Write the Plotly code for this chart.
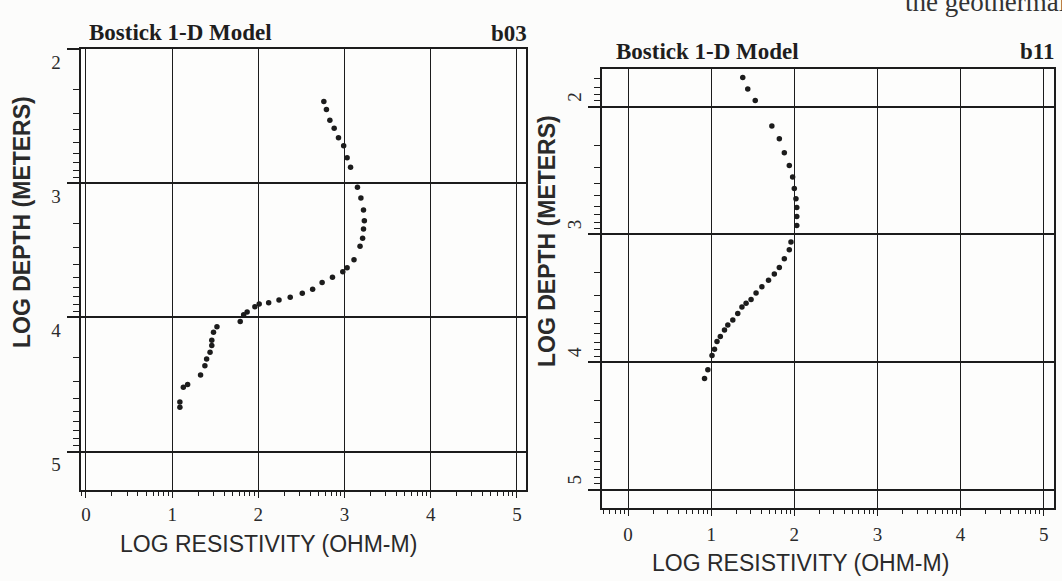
import numpy as np
import plotly.graph_objects as go

W, H = 1062, 581

# ---- data (log10 values) ----
b03_log_res = [2.76, 2.79, 2.83, 2.88, 2.93, 2.99, 3.03, 3.07, 3.15, 3.19, 3.22, 3.23, 3.22, 3.21,
               3.18, 3.11, 3.03, 2.98, 2.86, 2.74, 2.63, 2.51, 2.37, 2.24, 2.12, 2.01, 1.96, 1.87,
               1.83, 1.79, 1.52, 1.48, 1.46, 1.46, 1.44, 1.40, 1.38, 1.33, 1.18, 1.13, 1.09, 1.09]
b03_log_depth = [2.39, 2.45, 2.53, 2.59, 2.66, 2.72, 2.81, 2.88, 3.03, 3.11, 3.20, 3.28, 3.34, 3.41,
                 3.47, 3.57, 3.63, 3.66, 3.70, 3.74, 3.79, 3.82, 3.85, 3.87, 3.89, 3.90, 3.92, 3.96,
                 3.98, 4.03, 4.07, 4.11, 4.17, 4.21, 4.26, 4.31, 4.36, 4.43, 4.50, 4.52, 4.63, 4.67]

b11_log_res = [1.38, 1.44, 1.53, 1.73, 1.82, 1.88, 1.94, 1.98, 2.00, 2.02, 2.03, 2.03, 2.03, 1.96,
               1.94, 1.88, 1.82, 1.76, 1.69, 1.61, 1.54, 1.48, 1.42, 1.37, 1.32, 1.26, 1.20, 1.16,
               1.11, 1.07, 1.04, 1.01, 0.96, 0.92]
b11_log_depth = [1.77, 1.86, 1.95, 2.15, 2.25, 2.36, 2.46, 2.55, 2.64, 2.72, 2.79, 2.86, 2.93, 3.06,
                 3.12, 3.19, 3.26, 3.31, 3.36, 3.41, 3.46, 3.51, 3.54, 3.57, 3.62, 3.67, 3.71, 3.75,
                 3.80, 3.84, 3.90, 3.95, 4.06, 4.13]

x_tick_labels = ["0", "1", "2", "3", "4", "5"]
y_tick_labels = ["2", "3", "4", "5"]
x_decades = [0, 1, 2, 3, 4, 5]
y_decades = [2, 3, 4, 5]

INK = "#1c1c1c"
SERIF = "Liberation Serif, Times New Roman, serif"
SANS = "Liberation Sans, Arial, sans-serif"


def px_x(p):
    return p / W


def px_y(p):
    return 1 - p / H


def minor_vals(lo, hi):
    vals = []
    for d in range(lo, hi + 1):
        for k in range(2, 10):
            vals.append(k * 10.0 ** d)
    return vals


fig = go.Figure()
dot = dict(size=5.5, color=INK, symbol="circle")
fig.add_trace(go.Scatter(x=10.0 ** np.array(b03_log_res), y=10.0 ** np.array(b03_log_depth),
                         mode="markers", marker=dot, xaxis="x", yaxis="y", showlegend=False))
fig.add_trace(go.Scatter(x=10.0 ** np.array(b11_log_res), y=10.0 ** np.array(b11_log_depth),
                         mode="markers", marker=dot, xaxis="x2", yaxis="y2", showlegend=False))


def xaxis_cfg(domain, rng, anchor, standoff):
    return dict(
        type="log", domain=domain, range=rng, anchor=anchor,
        showline=True, mirror=True, linecolor=INK, linewidth=2,
        showgrid=True, gridcolor=INK, gridwidth=1.3, zeroline=False,
        tickmode="array", tickvals=[10.0 ** d for d in x_decades], ticktext=x_tick_labels,
        ticks="outside", ticklen=6, tickwidth=1.3, tickcolor=INK,
        tickfont=dict(family=SERIF, size=19, color="#2a2a2a"),
        ticklabelstandoff=standoff,
        minor=dict(tickmode="array", tickvals=minor_vals(-1, 5), ticks="outside",
                   ticklen=4, tickwidth=1, tickcolor=INK, showgrid=False),
    )


def yaxis_cfg(domain, rng, anchor, angle, shift, standoff):
    return dict(
        type="log", domain=domain, range=rng, anchor=anchor,
        showline=True, mirror=True, linecolor=INK, linewidth=2,
        showgrid=True, gridcolor=INK, gridwidth=2, zeroline=False,
        tickmode="array", tickvals=[10.0 ** d for d in y_decades], ticktext=y_tick_labels,
        ticks="outside", ticklen=12, tickwidth=1.5, tickcolor=INK,
        tickangle=angle, ticklabelshift=shift, ticklabelstandoff=standoff,
        tickfont=dict(family=SERIF, size=19, color="#2a2a2a"),
        minor=dict(tickmode="array", tickvals=minor_vals(1, 5), ticks="outside",
                   ticklen=6, tickwidth=1, tickcolor=INK, showgrid=False),
    )


fig.update_layout(
    width=W, height=H,
    margin=dict(l=0, r=0, t=0, b=0),
    paper_bgcolor="#fcfcfb", plot_bgcolor="#fdfdfc",
    xaxis=xaxis_cfg([px_x(80.5), px_x(526.4)], [-0.063, 5.11], "y", 0),
    yaxis=yaxis_cfg([px_y(490.4), px_y(49.2)], [5.29, 2.0], "x", 0, -13, 2),
    xaxis2=xaxis_cfg([px_x(602.3), px_x(1053.6)], [-0.31, 5.12], "y2", 2),
    yaxis2=yaxis_cfg([px_y(508.1), px_y(68.5)], [5.145, 1.70], "x2", -90, 7, 0),
)

ann = []


def text(x, y, s, size, family, bold=False, angle=0, xanchor="center", yanchor="middle", color="#1e1e1e"):
    ann.append(dict(x=px_x(x), y=px_y(y), xref="paper", yref="paper", text=("<b>%s</b>" % s) if bold else s,
                    showarrow=False, textangle=angle, xanchor=xanchor, yanchor=yanchor,
                    font=dict(family=family, size=size, color=color)))


text(180, 32, "Bostick 1-D Model", 23, SERIF, bold=True)
text(509, 33, "b03", 23, SERIF, bold=True)
text(707.5, 52, "Bostick 1-D Model", 23, SERIF, bold=True)
text(1037.5, 52, "b11", 23, SERIF, bold=True)
text(268, 544, "LOG RESISTIVITY (OHM-M)", 23, SANS, color="#2a2a2a")
text(800, 563, "LOG RESISTIVITY (OHM-M)", 23, SANS, color="#2a2a2a")
text(22, 222, "LOG DEPTH (METERS)", 23, SANS, bold=True, angle=-90, color="#2a2a2a")
text(547, 241, "LOG DEPTH (METERS)", 23, SANS, bold=True, angle=-90, color="#2a2a2a")
text(903, 2, "the geothermal", 27, SERIF, xanchor="left", color="#333333")

fig.update_layout(annotations=ann)
fig.write_html("out.html")
